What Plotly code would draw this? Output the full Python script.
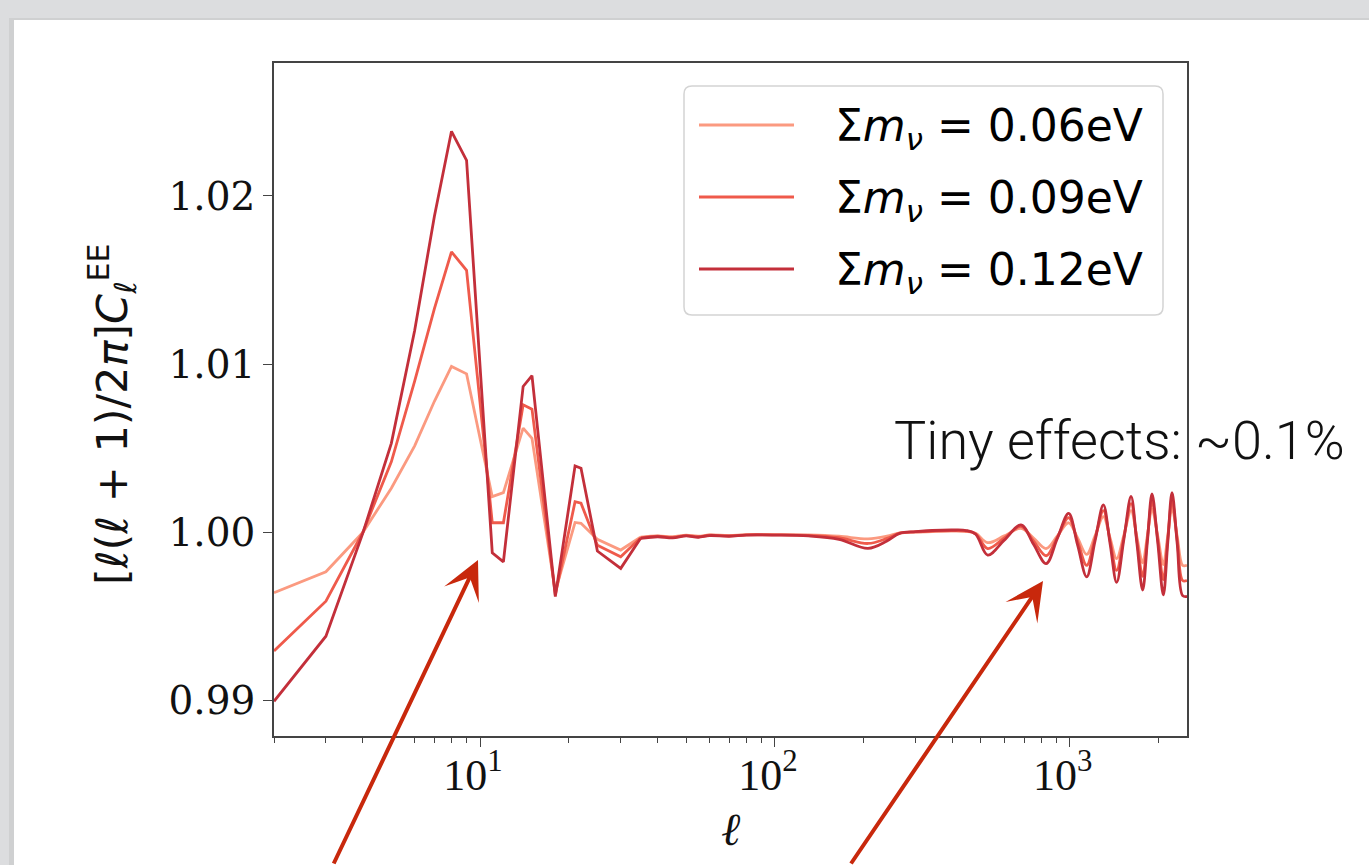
import math
import plotly.graph_objects as go

# ---------------- data ----------------
ELL_LOW = [2, 3, 4, 5, 6, 7, 8, 9, 11, 12, 14, 15, 18, 21, 22, 25, 30, 35]
LIGHT_LOW = [0.99642, 0.99767, 1.00000, 1.00263, 1.00515, 1.00780, 1.00987, 1.00943,
             1.00213, 1.00237, 1.00620, 1.00560, 0.99650, 1.00060, 1.00055, 0.99960,
             0.99896, 0.99972]
MEDIUM_LOW = [0.99296, 0.99592, 1.00000, 1.00420, 1.00900, 1.01330, 1.01668, 1.01558,
              1.00058, 1.00058, 1.00759, 1.00733, 0.99630, 1.00183, 1.00174, 0.99925,
              0.99856, 0.99968]
DARK_LOW = [0.98997, 0.99384, 0.99995, 1.00530, 1.01200, 1.01880, 1.02384, 1.02211,
            0.99880, 0.99826, 1.00868, 1.00932, 0.99620, 1.00396, 1.00382, 0.99890,
            0.99787, 0.99965]

ELL_HIGH = [35, 40, 45, 50, 55, 60, 70, 80, 100, 130, 165, 207, 240, 265, 300, 342, 400,
            446, 480, 527, 600, 684, 754, 832, 908, 992, 1064, 1142, 1219, 1301, 1371,
            1443, 1527, 1615, 1690, 1768, 1834, 1902, 1989, 2078, 2150, 2224, 2317, 2416,
            2500]
LIGHT_HIGH = [0.99972, 0.99980, 0.99975, 0.99984, 0.99978, 0.99986, 0.99982, 0.99988,
              0.99988, 0.99986, 0.99978, 0.99962, 0.99978, 0.99998, 1.00003, 1.00006,
              1.00008, 1.00006, 0.99995, 0.99940, 0.99980, 1.00025, 0.99967, 0.99905,
              0.99980, 1.00058, 0.99968, 0.99870, 0.99980, 1.00095, 0.99968, 0.99845,
              0.99985, 1.00130, 0.99975, 0.99820, 0.99980, 1.00140, 0.99980, 0.99810,
              0.99978, 1.00145, 0.99975, 0.99805, 0.99805]
MEDIUM_HIGH = [0.99968, 0.99978, 0.99971, 0.99982, 0.99975, 0.99984, 0.99980, 0.99986,
               0.99986, 0.99983, 0.99969, 0.99935, 0.99965, 0.99996, 1.00004, 1.00009,
               1.00012, 1.00009, 0.99992, 0.99905, 0.99968, 1.00036, 0.99950, 0.99862,
               0.99972, 1.00088, 0.99948, 0.99805, 0.99965, 1.00130, 0.99952, 0.99775,
               0.99972, 1.00172, 0.99956, 0.99740, 0.99962, 1.00185, 0.99962, 0.99720,
               0.99957, 1.00190, 0.99952, 0.99715, 0.99715]
DARK_HIGH = [0.99965, 0.99975, 0.99968, 0.99980, 0.99972, 0.99982, 0.99978, 0.99985,
             0.99985, 0.99980, 0.99960, 0.99906, 0.99950, 0.99995, 1.00005, 1.00012,
             1.00015, 1.00012, 0.99990, 0.99866, 0.99955, 1.00045, 0.99930, 0.99815,
             0.99965, 1.00114, 0.99925, 0.99737, 0.99950, 1.00164, 0.99934, 0.99704,
             0.99960, 1.00215, 0.99937, 0.99658, 0.99943, 1.00229, 0.99943, 0.99630,
             0.99934, 1.00237, 0.99930, 0.99625, 0.99620]

SERIES_LABELS = ["Σ<i>m</i><sub><i>ν</i></sub> = 0.06eV",
                 "Σ<i>m</i><sub><i>ν</i></sub> = 0.09eV",
                 "Σ<i>m</i><sub><i>ν</i></sub> = 0.12eV"]
SERIES_COLORS = ["#fb9a80", "#ef5a4b", "#c32f3a"]

Y_TICKS = [0.99, 1.00, 1.01, 1.02]
X_TICKS = [10, 100, 1000]
X_TICK_TEXT = ["10<sup>1</sup>", "10<sup>2</sup>", "10<sup>3</sup>"]
X_MINOR = [2, 3, 4, 5, 6, 7, 8, 9, 20, 30, 40, 50, 60, 70, 80, 90,
           200, 300, 400, 500, 600, 700, 800, 900, 2000]
X_RANGE = [2, 2500]
Y_RANGE = [0.98791, 1.0279]
REF_LEVEL = 1.0

X_TITLE = "<i>ℓ</i>"
Y_TITLE = "[<i>ℓ</i>(<i>ℓ</i> + 1)/2<i>π</i>]<i>C</i><sub><i>ℓ</i></sub><sup>EE</sup>"
NOTE_TEXT = "Tiny effects: ~0.1%"

# ---------------- layout helpers (pixel -> paper) ----------------
W, H = 1369, 865
ML, MR, MT, MB = 274, 182, 63, 129
PW, PH = W - ML - MR, H - MT - MB


def px(x):
    return (x - ML) / PW


def py(y):
    return (H - MB - y) / PH


fig = go.Figure()

lows = [LIGHT_LOW, MEDIUM_LOW, DARK_LOW]
highs = [LIGHT_HIGH, MEDIUM_HIGH, DARK_HIGH]
for lab, col, lo, hi in zip(SERIES_LABELS, SERIES_COLORS, lows, highs):
    fig.add_trace(go.Scatter(x=ELL_LOW, y=lo, mode="lines", name=lab,
                             line=dict(color=col, width=2.8), showlegend=False))
    fig.add_trace(go.Scatter(x=ELL_HIGH, y=hi, mode="lines", name=lab,
                             line=dict(color=col, width=2.8, shape="spline", smoothing=1.0),
                             showlegend=False))

# horizontal reference line at 1
fig.add_shape(type="line", xref="paper", yref="y", x0=0, x1=1, y0=REF_LEVEL, y1=REF_LEVEL,
              line=dict(color="#2a2a2a", width=2.6), layer="below")

# slide background (white card on grey, soft left shadow)
fig.add_shape(type="rect", xref="paper", yref="paper", x0=px(9), x1=px(1420),
              y0=py(920), y1=py(18), fillcolor="rgba(0,0,0,0.06)", line=dict(width=0),
              layer="below")
fig.add_shape(type="rect", xref="paper", yref="paper", x0=px(14), x1=px(1420),
              y0=py(920), y1=py(20), fillcolor="white", line=dict(width=0), layer="below")

# legend box (matplotlib style, rounded)
lx0, lx1, ly0, ly1, r = 684, 1163, 86, 315, 8
path = (f"M{px(lx0 + r)},{py(ly0)} L{px(lx1 - r)},{py(ly0)} Q{px(lx1)},{py(ly0)} {px(lx1)},{py(ly0 + r)} "
        f"L{px(lx1)},{py(ly1 - r)} Q{px(lx1)},{py(ly1)} {px(lx1 - r)},{py(ly1)} "
        f"L{px(lx0 + r)},{py(ly1)} Q{px(lx0)},{py(ly1)} {px(lx0)},{py(ly1 - r)} "
        f"L{px(lx0)},{py(ly0 + r)} Q{px(lx0)},{py(ly0)} {px(lx0 + r)},{py(ly0)} Z")
fig.add_shape(type="path", xref="paper", yref="paper", path=path,
              fillcolor="rgba(255,255,255,0.85)", line=dict(color="#d4d4d4", width=1.5))
for i, (lab, col) in enumerate(zip(SERIES_LABELS, SERIES_COLORS)):
    yy = 125 + i * 72
    fig.add_shape(type="line", xref="paper", yref="paper", x0=px(699), x1=px(794),
                  y0=py(yy), y1=py(yy), line=dict(color=col, width=2.8))
    fig.add_annotation(xref="paper", yref="paper", x=px(833), y=py(yy + 3), text=lab,
                       showarrow=False, xanchor="left", yanchor="middle",
                       font=dict(family="DejaVu Sans", size=44, color="black"))

# y-axis title (placed explicitly to match the reference position)
fig.add_annotation(xref="paper", yref="paper", x=px(112), y=py(414), text=Y_TITLE,
                   textangle=-90, showarrow=False, xanchor="center", yanchor="middle",
                   font=dict(family="DejaVu Sans", size=43, color="#111111"))

# note text
fig.add_annotation(xref="paper", yref="paper", x=px(892), y=py(440), text=NOTE_TEXT,
                   showarrow=False, xanchor="left", yanchor="middle",
                   font=dict(family="Roboto", size=54, color="#111111", weight=300))

# arrows
ARROW_COLOR = "#c8280c"
for tip, tail in [((478, 560), (333, 880)), ((1043, 581), (850, 880))]:
    fig.add_annotation(xref="paper", yref="paper", x=px(tip[0]), y=py(tip[1]),
                       ax=tail[0] - tip[0], ay=tail[1] - tip[1], axref="pixel", ayref="pixel",
                       text="", showarrow=True, arrowhead=3, arrowsize=1.6,
                       arrowwidth=4, arrowcolor=ARROW_COLOR, standoff=0)

fig.update_layout(
    width=W, height=H,
    margin=dict(l=ML, r=MR, t=MT, b=MB, pad=0),
    paper_bgcolor="#dcdddf",
    plot_bgcolor="white",
    showlegend=False,
    xaxis=dict(type="log", range=[math.log10(X_RANGE[0]), math.log10(X_RANGE[1])],
               showgrid=False, zeroline=False, showline=True, mirror=True,
               linecolor="#444444", linewidth=1.6,
               ticks="outside", ticklen=9, tickwidth=1.4, tickcolor="#444444",
               tickmode="array", tickvals=X_TICKS, ticktext=X_TICK_TEXT,
               ticklabelshift=-7, ticklabelstandoff=-10,
               tickfont=dict(family="Liberation Serif", size=44, color="#111111"),
               minor=dict(ticks="outside", ticklen=5, tickwidth=1.2, tickcolor="#444444",
                          tickmode="array", tickvals=X_MINOR, showgrid=False),
               title=dict(text=X_TITLE, font=dict(family="Liberation Serif", size=46, color="#111111"),
                          standoff=14)),
    yaxis=dict(range=Y_RANGE, showgrid=False, zeroline=False, showline=True, mirror=True,
               linecolor="#444444", linewidth=1.6,
               ticks="outside", ticklen=9, tickwidth=1.4, tickcolor="#444444",
               tickmode="array", tickvals=Y_TICKS, tickformat=".2f",
               tickfont=dict(family="DejaVu Serif", size=39, color="#111111")),
)

fig.write_html("out.html")
